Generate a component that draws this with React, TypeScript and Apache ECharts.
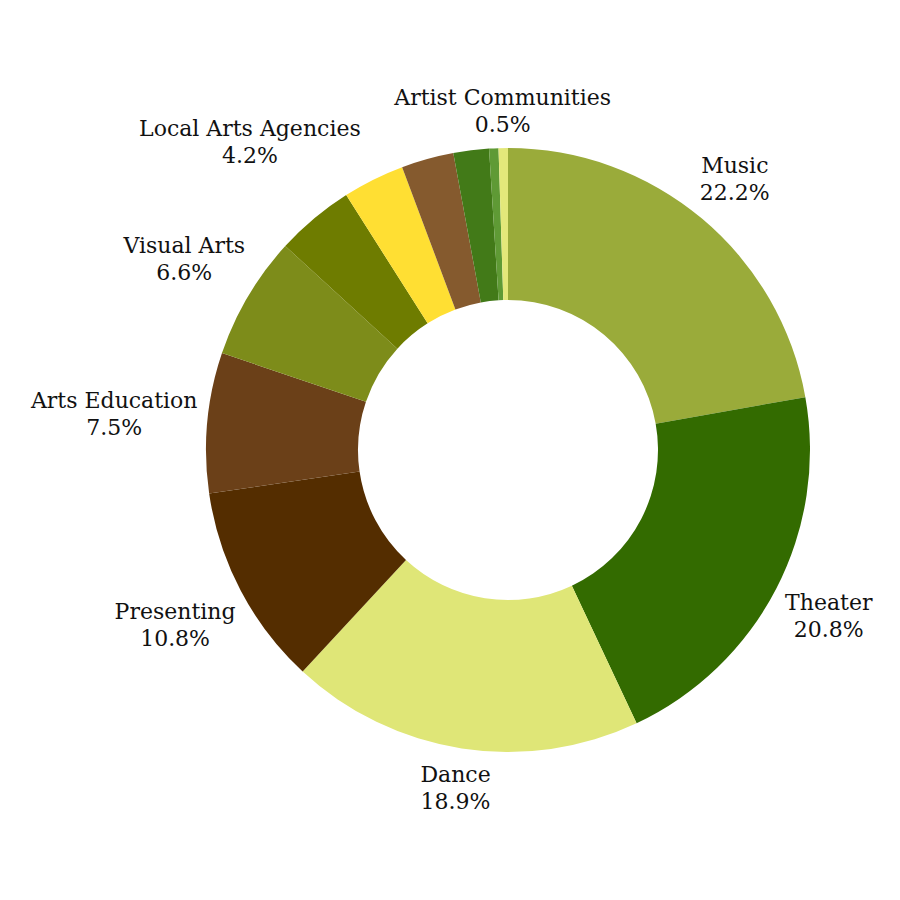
import React, { useEffect, useRef } from "react";
import * as echarts from "echarts";

const categories = [
  "Music",
  "Theater",
  "Dance",
  "Presenting",
  "Arts Education",
  "Visual Arts",
  "Local Arts Agencies",
  "Museums",
  "Media Arts",
  "Literature",
  "Folk & Traditional Arts",
  "Artist Communities",
];
const values = [22.2, 20.8, 18.9, 10.8, 7.5, 6.6, 4.2, 3.3, 2.8, 1.9, 0.5, 0.5];
const colors = [
  "#9aab3a",
  "#336b00",
  "#dfe677",
  "#542d00",
  "#6b4018",
  "#7d8c1a",
  "#6e7c00",
  "#ffdf33",
  "#855a2e",
  "#427a18",
  "#5f9a35",
  "#e3e87a",
];
const showLabel = [true, true, true, true, true, true, true, false, false, false, false, true];

const CX = 508;
const CY = 450;
const R_IN = 150;
const R_OUT = 302;
const OFFSET = 8;

export default function App() {
  const ref = useRef<HTMLDivElement>(null);
  useEffect(() => {
    if (!ref.current) return;
    const chart = echarts.init(ref.current, undefined, { renderer: "svg" });
    const total = values.reduce((a, b) => a + b, 0);
    const cum: number[] = [];
    let acc = 0;
    values.forEach((v) => {
      cum.push(acc + v / 2);
      acc += v;
    });
    chart.setOption({
      animation: false,
      backgroundColor: "#ffffff",
      series: [
        {
          type: "pie",
          center: [CX, CY],
          radius: [R_IN, R_OUT],
          startAngle: 90,
          clockwise: true,
          avoidLabelOverlap: false,
          itemStyle: { borderColor: "#ffffff", borderWidth: 0 },
          label: {
            show: true,
            position: "outside",
            formatter: (p: any) => `${p.name}\n${p.value.toFixed(1)}%`,
            fontFamily: "DejaVu Serif",
            fontSize: 22,
            lineHeight: 27,
            color: "#111111",
            align: "center",
          },
          labelLine: { show: false },
          labelLayout: (params: any) => {
            const i = params.dataIndex;
            if (!showLabel[i]) return {};
            const th = (2 * Math.PI * cum[i]) / total;
            const vx = Math.sin(th);
            const vy = -Math.cos(th);
            const w = params.labelRect.width;
            const h = params.labelRect.height;
            const d = R_OUT + Math.abs(vx) * (w / 2) + Math.abs(vy) * (h / 2) + OFFSET;
            return { x: CX + d * vx, y: CY + d * vy, align: "center", verticalAlign: "middle" };
          },
          emphasis: { disabled: true },
          data: categories.map((name, i) => ({
            name,
            value: values[i],
            itemStyle: { color: colors[i] },
            label: { show: showLabel[i] },
          })),
        },
      ],
    });
    return () => chart.dispose();
  }, []);
  return (
    <div
      ref={ref}
      style={{ position: "fixed", left: 0, top: 0, width: 900, height: 900 }}
    />
  );
}
